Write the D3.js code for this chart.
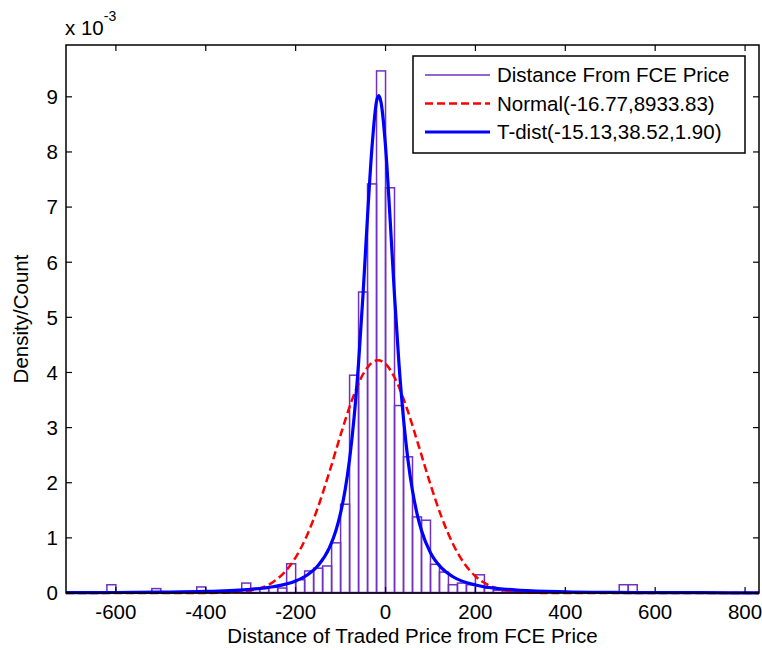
<!DOCTYPE html>
<html>
<head>
<meta charset="utf-8">
<script src="https://cdnjs.cloudflare.com/ajax/libs/d3/7.8.5/d3.min.js"></script>
<style>
  body { margin: 0; background: #fff; }
  text { font-family: Arial, "Liberation Sans", sans-serif; fill: #000; }
</style>
</head>
<body>
<div id="chart"></div>
<script>
// histogram bins (left edge, density in units of 1e-3)
var binWidth = 20;
var binLeft = [-620, -520, -420, -400, -320, -300, -280, -260, -240, -220, -200, -180, -160, -140,
  -120, -100, -80, -60, -40, -20, 0, 20, 40, 60, 80, 100, 120, 140, 160, 180, 200, 220, 240,
  260, 280, 300, 320, 340, 520, 540];
var binDensity = [0.15, 0.08, 0.11, 0.04, 0.18, 0.07, 0.09, 0.11, 0.09, 0.53, 0.24, 0.40, 0.45, 0.49,
  0.91, 1.61, 3.95, 5.46, 7.42, 9.47, 7.35, 3.40, 2.47, 1.38, 1.32, 0.52, 0.38, 0.15, 0.18, 0.15,
  0.33, 0.09, 0.05, 0.04, 0.03, 0.03, 0.02, 0.02, 0.15, 0.15];

// fitted normal curve
var normalX = [-711, -400, -350, -300, -250, -225, -200, -175, -150, -125, -100, -75, -50, -25, -17,
  0, 25, 50, 75, 100, 125, 150, 175, 200, 225, 250, 300, 350, 831];
var normalY = [0, 0.001, 0.009, 0.047, 0.201, 0.373, 0.645, 1.040, 1.564, 2.192, 2.867, 3.492, 3.968,
  4.205, 4.221, 4.155, 3.829, 3.289, 2.635, 1.968, 1.370, 0.890, 0.539, 0.304, 0.160, 0.079, 0.015,
  0.002, 0];

// fitted t-distribution curve
var tdistX = [-711, -600, -500, -400, -300, -250, -200, -175, -150, -125, -110, -100, -90, -80, -70,
  -60, -50, -40, -30, -20, -15, -10, 0, 10, 20, 30, 40, 50, 60, 70, 80, 100, 125, 150, 200, 250,
  300, 400, 500, 600, 700, 831];
var tdistY = [0.005, 0.009, 0.015, 0.028, 0.067, 0.114, 0.218, 0.321, 0.497, 0.817, 1.142, 1.452,
  1.866, 2.427, 3.181, 4.175, 5.424, 6.843, 8.10, 8.92, 9.02, 8.90, 8.10, 6.806, 5.388, 4.146,
  3.160, 2.409, 1.853, 1.441, 1.135, 0.731, 0.450, 0.295, 0.145, 0.081, 0.050, 0.023, 0.012, 0.007,
  0.005, 0.003];

var xTicks = [-600, -400, -200, 0, 200, 400, 600, 800];
var yTicks = [0, 1, 2, 3, 4, 5, 6, 7, 8, 9];
var legendLabels = ['Distance From FCE Price', 'Normal(-16.77,8933.83)', 'T-dist(-15.13,38.52,1.90)'];

var W = 762, H = 650;
var plotL = 66, plotR = 759, plotT = 45, plotB = 593;
var histColor = '#7030c0', normalColor = '#ff0000', tColor = '#0000ff';
var fontSize = 20.5;

var svg = d3.select('#chart').append('svg')
  .attr('width', W)
  .attr('height', H);

var x = d3.scaleLinear().domain([-711, 831]).range([plotL, plotR]);
var y = d3.scaleLinear().domain([0, 9.94]).range([plotB, plotT]);

/* ---------- histogram ---------- */
var bins = binLeft.map(function(d, i) { return { x0: d, v: binDensity[i] }; });

svg.append('line')
  .attr('x1', plotL).attr('x2', plotR)
  .attr('y1', plotB - 0.5).attr('y2', plotB - 0.5)
  .style('stroke', histColor)
  .style('stroke-width', 1.5);

svg.selectAll('rect.bin')
  .data(bins)
  .enter().append('rect')
  .attr('class', 'bin')
  .attr('x', function(d) { return x(d.x0); })
  .attr('y', function(d) { return y(d.v); })
  .attr('width', function(d) { return x(d.x0 + binWidth) - x(d.x0); })
  .attr('height', function(d) { return y(0) - y(d.v); })
  .style('fill', 'none')
  .style('stroke', histColor)
  .style('stroke-width', 1.5);

/* ---------- fitted curves ---------- */
var line = d3.line()
  .x(function(d) { return x(d[0]); })
  .y(function(d) { return y(d[1]); })
  .curve(d3.curveMonotoneX);

svg.append('path')
  .datum(normalX.map(function(d, i) { return [d, normalY[i]]; }))
  .attr('d', line)
  .style('fill', 'none')
  .style('stroke', normalColor)
  .style('stroke-width', 2.5)
  .style('stroke-dasharray', '8,4');

svg.append('path')
  .datum(tdistX.map(function(d, i) { return [d, tdistY[i]]; }))
  .attr('d', line)
  .style('fill', 'none')
  .style('stroke', tColor)
  .style('stroke-width', 3.2);

/* ---------- axes box + ticks (inward, both sides) ---------- */
svg.append('rect')
  .attr('x', plotL).attr('y', plotT)
  .attr('width', plotR - plotL).attr('height', plotB - plotT)
  .style('fill', 'none')
  .style('stroke', '#000')
  .style('stroke-width', 1.5);

var tickLen = 6;
xTicks.forEach(function(t) {
  svg.append('line')
    .attr('x1', x(t)).attr('x2', x(t))
    .attr('y1', plotB).attr('y2', plotB - tickLen)
    .style('stroke', '#000').style('stroke-width', 1.2);
  svg.append('line')
    .attr('x1', x(t)).attr('x2', x(t))
    .attr('y1', plotT).attr('y2', plotT + tickLen)
    .style('stroke', '#000').style('stroke-width', 1.2);
  svg.append('text')
    .attr('x', x(t))
    .attr('y', 619)
    .attr('text-anchor', 'middle')
    .attr('font-size', fontSize)
    .text(t);
});

yTicks.forEach(function(t) {
  svg.append('line')
    .attr('x1', plotL).attr('x2', plotL + tickLen)
    .attr('y1', y(t)).attr('y2', y(t))
    .style('stroke', '#000').style('stroke-width', 1.2);
  svg.append('line')
    .attr('x1', plotR).attr('x2', plotR - tickLen)
    .attr('y1', y(t)).attr('y2', y(t))
    .style('stroke', '#000').style('stroke-width', 1.2);
  svg.append('text')
    .attr('x', 58)
    .attr('y', y(t))
    .attr('dy', '0.36em')
    .attr('text-anchor', 'end')
    .attr('font-size', fontSize)
    .text(t);
});

// exponent label
var expo = svg.append('text')
  .attr('x', 65)
  .attr('y', 35)
  .attr('font-size', fontSize);
expo.append('tspan').text('x 10');
expo.append('tspan')
  .attr('dy', -14)
  .attr('font-size', 14)
  .text('-3');

// axis labels
svg.append('text')
  .attr('x', (plotL + plotR) / 2)
  .attr('y', 643)
  .attr('text-anchor', 'middle')
  .attr('font-size', fontSize)
  .text('Distance of Traded Price from FCE Price');

svg.append('text')
  .attr('transform', 'translate(28,' + ((plotT + plotB) / 2) + ') rotate(-90)')
  .attr('text-anchor', 'middle')
  .attr('font-size', fontSize)
  .text('Density/Count');

/* ---------- legend ---------- */
var lg = svg.append('g').attr('transform', 'translate(413,56)');
lg.append('rect')
  .attr('width', 332).attr('height', 97)
  .style('fill', '#fff')
  .style('stroke', '#000')
  .style('stroke-width', 1.5);

var legendStyles = [
  { color: histColor, width: 1.5, dash: null },
  { color: normalColor, width: 2.5, dash: '8,4' },
  { color: tColor, width: 3, dash: null }
];
legendLabels.forEach(function(label, i) {
  var cy = 19 + i * 28.5;
  lg.append('line')
    .attr('x1', 12).attr('x2', 77)
    .attr('y1', cy).attr('y2', cy)
    .style('stroke', legendStyles[i].color)
    .style('stroke-width', legendStyles[i].width)
    .style('stroke-dasharray', legendStyles[i].dash);
  lg.append('text')
    .attr('x', 84)
    .attr('y', cy)
    .attr('dy', '0.36em')
    .attr('font-size', fontSize)
    .text(label);
});
</script>
</body>
</html>
